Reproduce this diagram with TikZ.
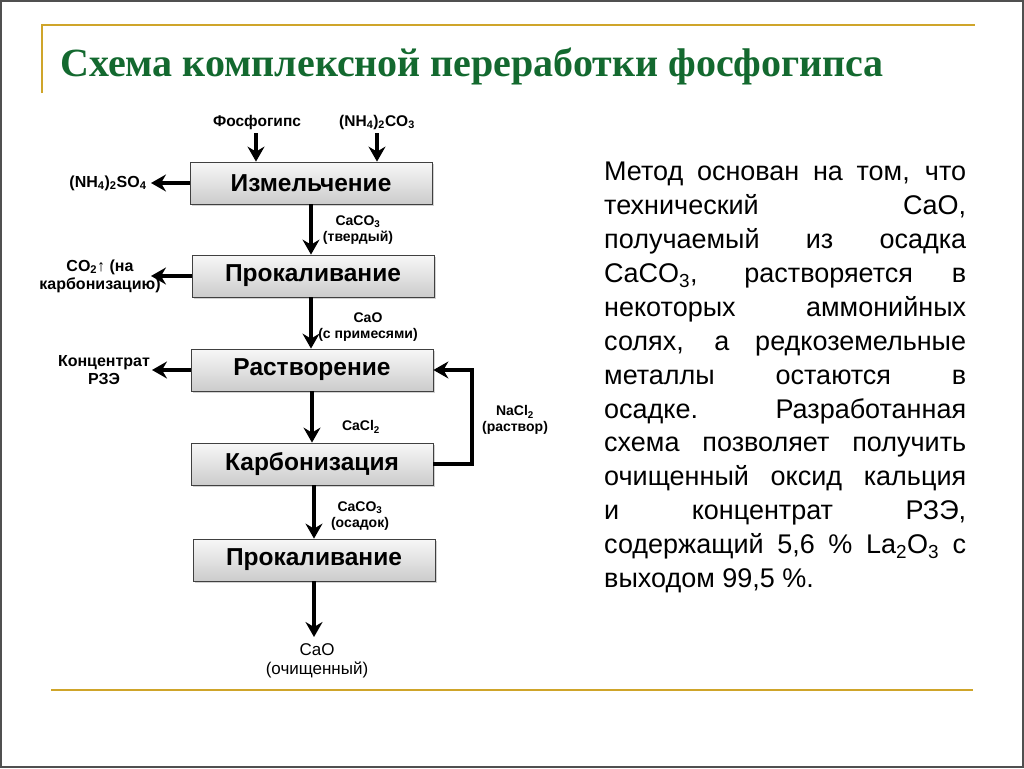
\documentclass[tikz,border=0pt]{standalone}
\usepackage{fontspec}
\setmainfont{Liberation Sans}
\newfontfamily\titlefont{Liberation Serif}
\usetikzlibrary{arrows.meta,shadows}
\definecolor{titlegreen}{HTML}{13692F}
\definecolor{gold}{HTML}{CFA52A}
\definecolor{frame}{HTML}{505050}
\begin{document}
\begin{tikzpicture}[x=1pt,y=-1pt,
  stepbox/.style={draw=black!75,line width=0.8pt,top color=gray!6,bottom color=gray!40,
    minimum width=242pt,minimum height=42pt,inner sep=0pt,
    font=\fontsize{24.5}{26}\selectfont\bfseries,
    drop shadow={shadow xshift=1.5pt,shadow yshift=-1.5pt,opacity=0.35}},
  flow/.style={line width=3.3pt,-{Stealth[length=15pt,width=17pt,inset=5pt]}},
  lbl/.style={font=\fontsize{14}{15.5}\selectfont\bfseries,align=center,inner sep=0pt},
  side/.style={font=\fontsize{16}{18}\selectfont\bfseries,align=center,inner sep=0pt},
  body/.style={font=\fontsize{27}{33.9}\selectfont,inner sep=0pt,anchor=north west}]
\useasboundingbox (0,0) rectangle (1024,768);
\fill[white] (0,0) rectangle (1024,768);
\draw[frame,line width=2pt] (1,1) rectangle (1023,767);
% decorative lines
\draw[gold,line width=2.5pt] (42,93) -- (42,25) -- (975,25);
\draw[gold,line width=2.5pt] (51,690) -- (973,690);
% title
\node[font=\titlefont\fontsize{40}{42}\selectfont\bfseries,text=titlegreen,anchor=base west,inner sep=0pt] (title) at (60,76) {Схема комплексной переработки фосфогипса};
% boxes
\node[stepbox] (b1) at (311,183) {Измельчение};
\node[stepbox] (b2) at (313,276) {Прокаливание};
\node[stepbox] (b3) at (312,370) {Растворение};
\node[stepbox] (b4) at (312,464) {Карбонизация};
\node[stepbox] (b5) at (314,560) {Прокаливание};
% inputs
\node[lbl,font=\fontsize{15.5}{17}\selectfont\bfseries] (in1) at (257,122) {Фосфогипс};
\node[lbl,font=\fontsize{15.5}{17}\selectfont\bfseries] (in2) at (377,122) {(NH\textsubscript{4})\textsubscript{2}CO\textsubscript{3}};
\coordinate (in1a) at (256,133);
\coordinate (in2a) at (377,133);
\draw[flow] (in1a) -- (in1a |- b1.north);
\draw[flow] (in2a) -- (in2a |- b1.north);
% outputs left
\node[side] (o1) at (108,183) {(NH\textsubscript{4})\textsubscript{2}SO\textsubscript{4}};
\node[side] (o2) at (100,276) {CO\textsubscript{2}↑ (на\\карбонизацию)};
\node[side] (o3) at (104,370) {Концентрат\\РЗЭ};
\coordinate (t1) at (151,183);
\coordinate (t2) at (151,276);
\coordinate (t3) at (152,370);
\draw[flow] (b1.west) -- (t1);
\draw[flow] (b2.west) -- (t2);
\draw[flow] (b3.west) -- (t3);
% main flow
\draw[flow] (b1.south -| 311,0) -- (b2.north -| 311,0);
\draw[flow] (b2.south -| 311,0) -- (b3.north -| 311,0);
\draw[flow] (b3.south -| 312,0) -- (b4.north -| 312,0);
\draw[flow] (b4.south -| 314,0) -- (b5.north -| 314,0);
\coordinate (endp) at (314,637);
\draw[flow] (b5.south) -- (endp);
% flow labels
\node[lbl] (l1) at (358,230) {CaCO\textsubscript{3}\\(твердый)};
\node[lbl] (l2) at (368,327) {CaO\\(с примесями)};
\node[lbl] (l3) at (361,427) {CaCl\textsubscript{2}};
\node[lbl] (l4) at (360,516) {CaCO\textsubscript{3}\\(осадок)};
\node[side,font=\fontsize{17}{18.5}\selectfont] (l5) at (317,661) {CaO\\(очищенный)};
% recycle
\coordinate (r1) at (472,464);
\coordinate (r2) at (472,370);
\draw[flow] (b4.east) -- (r1) -- (r2) -- (b3.east);
\node[lbl] (l6) at (515,420) {NaCl\textsubscript{2}\\(раствор)};
% body text
\node[body] (txt) at (604,162) {\parbox[t]{362pt}{%
\makebox[362pt][s]{Метод основан на том, что}\\
\makebox[362pt][s]{технический CaO,}\\
\makebox[362pt][s]{получаемый из осадка}\\
\makebox[362pt][s]{CaCO\textsubscript{3}, растворяется в}\\
\makebox[362pt][s]{некоторых аммонийных}\\
\makebox[362pt][s]{солях, а редкоземельные}\\
\makebox[362pt][s]{металлы остаются в}\\
\makebox[362pt][s]{осадке. Разработанная}\\
\makebox[362pt][s]{схема позволяет получить}\\
\makebox[362pt][s]{очищенный оксид кальция}\\
\makebox[362pt][s]{и концентрат РЗЭ,}\\
\makebox[362pt][s]{содержащий 5,6 \% La\textsubscript{2}O\textsubscript{3} с}\\
выходом 99,5 \%.}};
\end{tikzpicture}
\end{document}
